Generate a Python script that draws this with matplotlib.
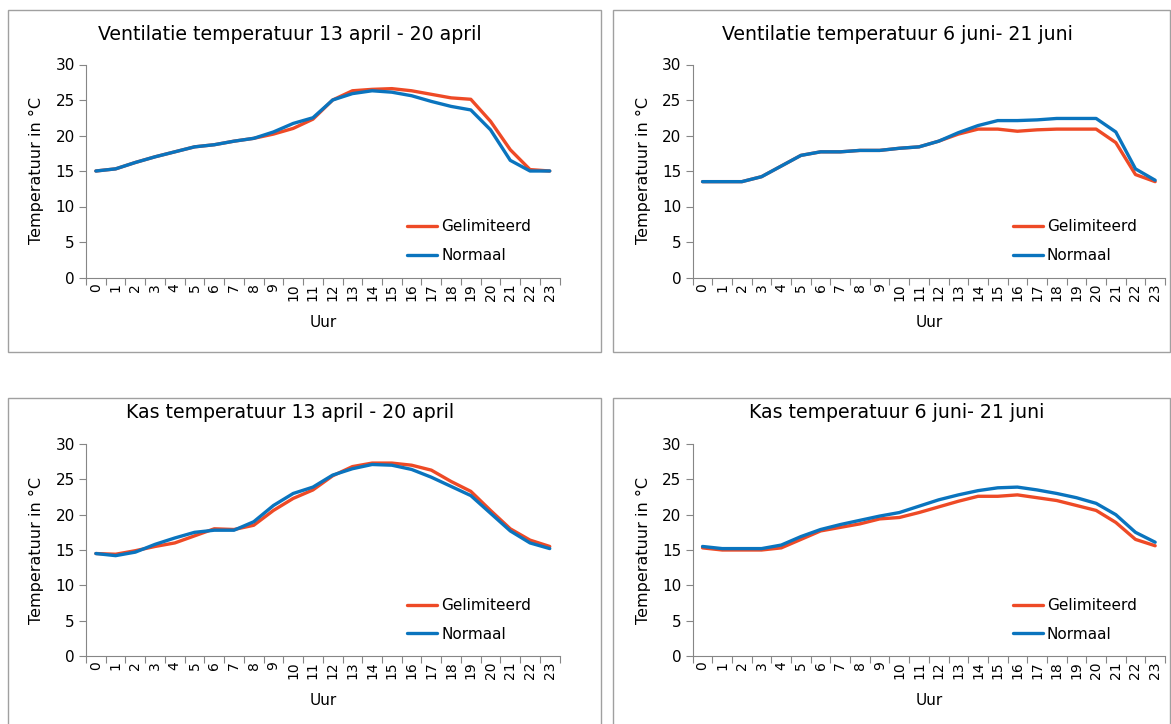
import numpy as np
import matplotlib
matplotlib.use("Agg")
import matplotlib.pyplot as plt
from matplotlib.patches import Rectangle

# =========================
# DATA
# =========================
uren = list(range(24))

titels = [
    "Ventilatie temperatuur 13 april - 20 april",
    "Ventilatie temperatuur 6 juni- 21 juni",
    "Kas temperatuur 13 april - 20 april",
    "Kas temperatuur 6 juni- 21 juni",
]

# Ventilatie april
vent_apr_gelim = [15.0, 15.3, 16.2, 17.0, 17.7, 18.4, 18.7, 19.2, 19.6, 20.2, 21.0, 22.3,
                  25.0, 26.3, 26.5, 26.6, 26.3, 25.8, 25.3, 25.1, 22.0, 18.0, 15.2, 15.0]
vent_apr_norm = [15.0, 15.3, 16.2, 17.0, 17.7, 18.4, 18.7, 19.2, 19.6, 20.5, 21.7, 22.5,
                 25.0, 25.9, 26.3, 26.1, 25.6, 24.8, 24.1, 23.6, 20.8, 16.5, 15.0, 15.0]

# Ventilatie juni
vent_jun_gelim = [13.5, 13.5, 13.5, 14.2, 15.7, 17.2, 17.7, 17.7, 17.9, 17.9, 18.2, 18.4,
                  19.2, 20.2, 20.9, 20.9, 20.6, 20.8, 20.9, 20.9, 20.9, 19.0, 14.5, 13.5]
vent_jun_norm = [13.5, 13.5, 13.5, 14.2, 15.7, 17.2, 17.7, 17.7, 17.9, 17.9, 18.2, 18.4,
                 19.2, 20.4, 21.4, 22.1, 22.1, 22.2, 22.4, 22.4, 22.4, 20.5, 15.3, 13.7]

# Kas april
kas_apr_gelim = [14.5, 14.4, 14.9, 15.5, 16.0, 17.0, 18.0, 17.9, 18.5, 20.6, 22.3, 23.5,
                 25.5, 26.8, 27.3, 27.3, 27.0, 26.3, 24.7, 23.3, 20.6, 18.0, 16.4, 15.5]
kas_apr_norm = [14.5, 14.2, 14.7, 15.8, 16.7, 17.5, 17.8, 17.8, 19.0, 21.3, 23.0, 23.9,
                25.6, 26.5, 27.1, 27.0, 26.4, 25.3, 24.0, 22.7, 20.2, 17.7, 16.0, 15.2]

# Kas juni
kas_jun_gelim = [15.3, 15.0, 15.0, 15.0, 15.3, 16.5, 17.7, 18.2, 18.7, 19.4, 19.6, 20.3,
                 21.1, 21.9, 22.6, 22.6, 22.8, 22.4, 22.0, 21.3, 20.6, 18.9, 16.5, 15.6]
kas_jun_norm = [15.5, 15.2, 15.2, 15.2, 15.7, 16.9, 17.9, 18.6, 19.2, 19.8, 20.3, 21.2,
                22.1, 22.8, 23.4, 23.8, 23.9, 23.5, 23.0, 22.4, 21.6, 20.0, 17.5, 16.1]

reeksen = [
    (vent_apr_gelim, vent_apr_norm),
    (vent_jun_gelim, vent_jun_norm),
    (kas_apr_gelim, kas_apr_norm),
    (kas_jun_gelim, kas_jun_norm),
]

# =========================
# LAYOUT (pixels -> figuurfracties)
# =========================
W, H = 1171, 724
rood = "#EE4A26"
blauw = "#0A74BE"
grijs = "#868686"

plt.rcParams["font.family"] = "DejaVu Sans"

fig = plt.figure(figsize=(W / 100, H / 100), dpi=100)

# plotgebieden: (links, rechts, y bij 30, y bij 0) in pixels
gebieden = [
    (86, 559.6, 64.5, 277.5),
    (692.7, 1165, 64.5, 277.5),
    (86, 559.6, 444, 656),
    (692.7, 1165, 444, 656),
]
# kaders om de grafieken
kaders = [
    (8, 10, 601, 352),
    (613, 10, 1170, 352),
    (8, 398, 601, 740),
    (613, 398, 1170, 740),
]
titel_pos = [(290, 35), (897, 35), (290, 412), (897, 412)]

for x0, y0, x1, y1 in kaders:
    fig.patches.append(
        Rectangle((x0 / W, 1 - y1 / H), (x1 - x0) / W, (y1 - y0) / H,
                  transform=fig.transFigure, fill=False, edgecolor="#A0A0A0",
                  linewidth=1.0, clip_on=False)
    )

for i, (links, rechts, ytop, ynul) in enumerate(gebieden):
    ax = fig.add_axes([links / W, 1 - ynul / H, (rechts - links) / W, (ynul - ytop) / H])
    gelim, norm = reeksen[i]
    ax.plot(uren, gelim, color=rood, linewidth=2.4, label="Gelimiteerd",
            solid_joinstyle="round", solid_capstyle="round")
    ax.plot(uren, norm, color=blauw, linewidth=2.4, label="Normaal",
            solid_joinstyle="round", solid_capstyle="round")

    ax.set_xlim(-0.5, 23.5)
    ax.set_ylim(0, 30)
    ax.set_yticks(range(0, 31, 5))
    ax.set_xticks(uren)
    ax.set_xticklabels([str(u) for u in uren], rotation=90, fontsize=10)
    ax.set_xticks(np.arange(-0.5, 24, 1), minor=True)
    ax.tick_params(axis="x", which="major", length=0, pad=4)
    ax.tick_params(axis="x", which="minor", length=5, color=grijs, width=0.8)
    ax.tick_params(axis="y", length=5, color=grijs, width=0.8, labelsize=11, pad=3)

    for s in ["top", "right"]:
        ax.spines[s].set_visible(False)
    for s in ["left", "bottom"]:
        ax.spines[s].set_color(grijs)
        ax.spines[s].set_linewidth(0.8)

    ax.set_ylabel("Temperatuur in °C", fontsize=11.5)
    ax.yaxis.set_label_coords(-0.088, 0.5)
    ax.set_xlabel("Uur", fontsize=11)
    ax.xaxis.set_label_coords(0.5, -0.175)

    ax.legend(loc="center left", bbox_to_anchor=(0.648, 0.17), frameon=False,
              fontsize=11, handlelength=2.0, handletextpad=0.25, labelspacing=0.9)

    tx, ty = titel_pos[i]
    fig.text(tx / W, 1 - ty / H, titels[i], ha="center", va="center", fontsize=13.6)

fig.savefig("out.png", dpi=100)
